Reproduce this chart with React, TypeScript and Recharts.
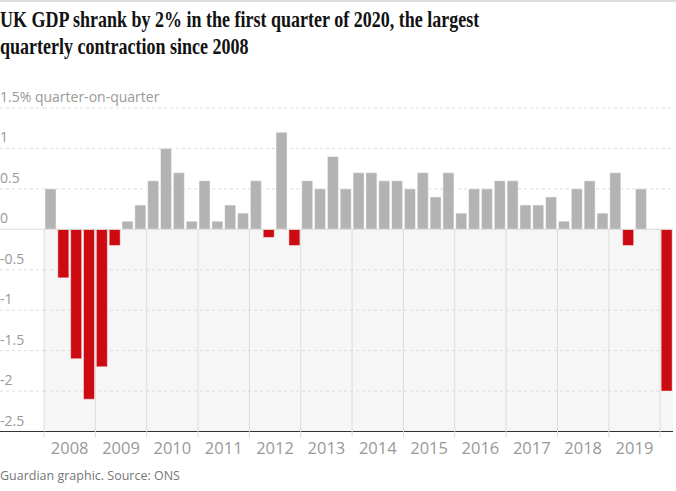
import { Bar, BarChart, CartesianGrid, Cell, ReferenceLine, XAxis, YAxis } from 'recharts'

// Quarter-on-quarter GDP growth, %, 2008 Q1 to 2020 Q1
const years = [2008, 2009, 2010, 2011, 2012, 2013, 2014, 2015, 2016, 2017, 2018, 2019]
const quarterNames = ['Q1', 'Q2', 'Q3', 'Q4']
const quarters = [...years.flatMap((y) => quarterNames.map((q) => `${y} ${q}`)), '2020 Q1']

const growth = [
  0.5, -0.6, -1.6, -2.1,
  -1.7, -0.2, 0.1, 0.3,
  0.6, 1.0, 0.7, 0.1,
  0.6, 0.1, 0.3, 0.2,
  0.6, -0.1, 1.2, -0.2,
  0.6, 0.5, 0.9, 0.5,
  0.7, 0.7, 0.6, 0.6,
  0.5, 0.7, 0.4, 0.7,
  0.2, 0.5, 0.5, 0.6,
  0.6, 0.3, 0.3, 0.4,
  0.1, 0.5, 0.6, 0.2,
  0.7, -0.2, 0.5, 0.0,
  -2.0,
]

const yTicks = [-2.5, -2, -1.5, -1, -0.5, 0, 0.5, 1, 1.5]

const data = quarters.map((q, i) => ({ q, value: growth[i] }))

const W = 676
const H = 491
const MARGIN = { top: 108, right: 3, bottom: 29.5, left: 0 }
const Y_AXIS_W = 44
const X_AXIS_H = 30
const PLOT_LEFT = MARGIN.left + Y_AXIS_W
const PLOT_W = W - PLOT_LEFT - MARGIN.right
const PLOT_H = H - MARGIN.top - MARGIN.bottom - X_AXIS_H
const STEP = PLOT_W / quarters.length
const Y_MIN = yTicks[0]
const Y_MAX = yTicks[yTicks.length - 1]
// height of the shaded negative region, from the axis up to zero
const NEG_H = (PLOT_H * (0 - Y_MIN)) / (Y_MAX - Y_MIN)

const GREY = '#b3b3b3'
const RED = '#cc0a12'
const GRID = '#dcdcdc'
const SHADE = '#f6f6f6'
const TEXT = '#999999'
const SANS = '"Open Sans", sans-serif'

// one fill per band between gridlines, top to bottom: shade everything below zero
const bandFills = yTicks
  .slice(1)
  .reverse()
  .map((v) => (v <= 0 ? SHADE : 'transparent'))

function YTick(props: any) {
  const { y, payload } = props
  const v = payload.value as number
  const label = v === Y_MAX ? '1.5% quarter-on-quarter' : String(v)
  let line
  if (v === Y_MIN) line = <line x1={0} x2={PLOT_LEFT} y1={y} y2={y} stroke="#333" />
  else if (v === 0) line = <line x1={0} x2={PLOT_LEFT} y1={y} y2={y} stroke={GRID} />
  else line = <line x1={0} x2={PLOT_LEFT} y1={y} y2={y} stroke={GRID} strokeDasharray="3 3" />
  return (
    <g>
      {line}
      <text x={0} y={y - 6} fill={TEXT} fontSize={14} fontFamily={SANS}>
        {label}
      </text>
    </g>
  )
}

function XTick(props: any) {
  const { x, y, payload } = props
  const i = quarters.indexOf(payload.value)
  if (i % 4 !== 0) return <g />
  const left = x - STEP / 2
  const year = String(payload.value).slice(0, 4)
  return (
    <g>
      <line x1={left} x2={left} y1={y - NEG_H} y2={y + 6} stroke={GRID} />
      {i < quarters.length - 1 && (
        <text x={left + 2 * STEP} y={y + 22.5} textAnchor="middle" fill={TEXT} fontSize={16.5} fontFamily={SANS}>
          {year}
        </text>
      )}
    </g>
  )
}

export default function App() {
  return (
    <div style={{ position: 'absolute', left: 0, top: 0, width: W, height: H, background: '#fff', overflow: 'hidden' }}>
      <div style={{ position: 'absolute', left: 0, top: 0, width: W, height: 2, background: '#dcdcdc' }} />
      <BarChart width={W} height={H} data={data} margin={MARGIN} barCategoryGap={1}>
        <CartesianGrid
          vertical={false}
          stroke={GRID}
          strokeDasharray="3 3"
          horizontalFill={bandFills}
          fillOpacity={1}
        />
        <ReferenceLine y={0} stroke={GRID} />
        <XAxis
          dataKey="q"
          interval={0}
          height={X_AXIS_H}
          tickSize={0}
          tickMargin={0}
          tickLine={false}
          axisLine={{ stroke: '#333' }}
          tick={XTick}
        />
        <YAxis
          domain={[Y_MIN, Y_MAX]}
          ticks={yTicks}
          width={Y_AXIS_W}
          axisLine={false}
          tickLine={false}
          tickSize={0}
          tickMargin={0}
          tick={YTick}
        />
        <Bar dataKey="value" isAnimationActive={false} stroke="rgba(255,255,255,0.45)" strokeWidth={1}>
          {data.map((d) => (
            <Cell key={d.q} fill={d.value < 0 ? RED : GREY} />
          ))}
        </Bar>
      </BarChart>
      <div
        style={{
          position: 'absolute',
          left: 0,
          top: 7,
          fontFamily: '"Liberation Serif", serif',
          fontWeight: 700,
          fontSize: 22.5,
          lineHeight: '26.5px',
          color: '#121212',
          whiteSpace: 'nowrap',
          transform: 'scaleX(0.8)',
          transformOrigin: '0 0',
        }}
      >
        <div>UK GDP shrank by 2% in the first quarter of 2020, the largest</div>
        <div>quarterly contraction since 2008</div>
      </div>
      <div
        style={{
          position: 'absolute',
          left: 0,
          top: 467,
          fontFamily: SANS,
          fontSize: 12.5,
          color: '#767676',
          whiteSpace: 'nowrap',
        }}
      >
        Guardian graphic. Source: ONS
      </div>
    </div>
  )
}
